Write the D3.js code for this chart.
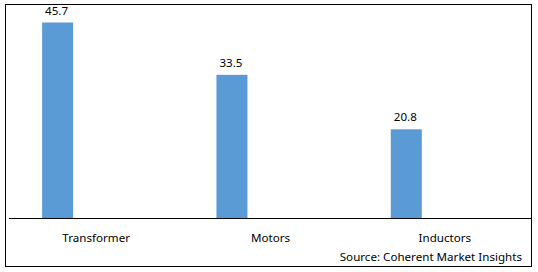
<!DOCTYPE html>
<html>
<head>
<meta charset="utf-8">
<script src="https://cdn.jsdelivr.net/npm/d3@7"></script>
<style>
  body { margin: 0; background: #fff; }
  text { font-family: "Noto Sans", sans-serif; font-size: 11.6px; fill: #000; }
</style>
</head>
<body>
<svg id="main_chart" width="538" height="272"></svg>
<script>
(function() {
  const categories = ['Transformer', 'Motors', 'Inductors'];
  const share_values = [45.7, 33.5, 20.8];
  const source_label = 'Source: Coherent Market Insights';

  const svg = d3.select('#main_chart');
  const axis_y = 218.5;

  // outer frame
  svg.append('rect').attr('x', 5.5).attr('y', 4.5).attr('width', 526).attr('height', 262)
    .attr('fill', 'none').attr('stroke', '#000').attr('stroke-width', 1);

  const xScale = d3.scaleBand().domain(categories).range([9, 532]).padding(0);
  const yScale = d3.scaleLinear().domain([0, 45.7]).range([axis_y, 22.5]);

  const bar_offset = xScale.bandwidth() * 0.19;
  const bar_width = 31;

  const bar_area = svg.append('g').attr('id', 'bar_area');
  bar_area.selectAll('rect.bar').data(categories).enter().append('rect')
    .attr('class', 'bar')
    .attr('x', function(d) { return xScale(d) + bar_offset; })
    .attr('y', function(d, i) { return yScale(share_values[i]); })
    .attr('width', bar_width)
    .attr('height', function(d, i) { return axis_y - yScale(share_values[i]); })
    .attr('fill', '#5b9bd5');

  bar_area.selectAll('text.value_label').data(categories).enter().append('text')
    .attr('class', 'value_label')
    .attr('text-anchor', 'middle')
    .attr('x', function(d) { return xScale(d) + bar_offset + bar_width / 2 - 1; })
    .attr('y', function(d, i) { return yScale(share_values[i]) - 8; })
    .text(function(d, i) { return share_values[i]; });

  // category axis
  const x_axis = svg.append('g').attr('transform', 'translate(0,' + axis_y + ')')
    .call(d3.axisBottom(xScale).tickSize(0).tickPadding(15));
  x_axis.select('.domain').attr('stroke', '#000').attr('d', 'M9,0H531');
  x_axis.selectAll('text').attr('fill', '#000').style('font-size', '11.6px')
    .style('font-family', '"Noto Sans", sans-serif');

  svg.append('text').attr('text-anchor', 'end').attr('x', 522).attr('y', 261)
    .text(source_label);
}());
</script>
</body>
</html>
